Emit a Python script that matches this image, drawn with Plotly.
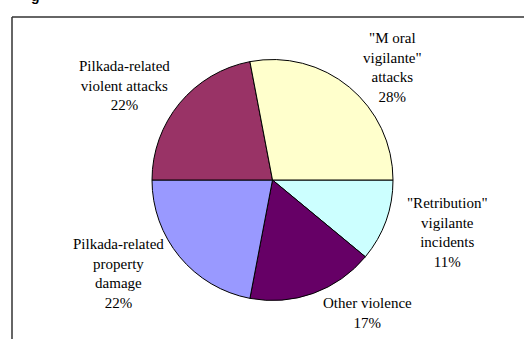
import plotly.graph_objects as go

W, H = 524, 339

# Data (in original order)
categories = ['"Moral vigilante" attacks', 'Pilkada-related violent attacks',
              'Pilkada-related property damage', 'Other violence',
              '"Retribution" vigilante incidents']
values = [28, 22, 22, 17, 11]
colors = ['#FFFFCC', '#993366', '#9999FF', '#660066', '#CCFFFF']
label_texts = ['"M oral<br>vigilante"<br>attacks<br>28%',
               'Pilkada-related<br>violent attacks<br>22%',
               'Pilkada-related<br>property<br>damage<br>22%',
               'Other violence<br>17%',
               '"Retribution"<br>vigilante<br>incidents<br>11%']
# label centres in pixels
label_pos = [(392, 67), (124, 85), (118, 273), (367, 313), (447, 232)]

# Pie drawn clockwise starting at 3 o'clock (reverse order)
fig = go.Figure(go.Pie(
    labels=categories[::-1],
    values=values[::-1],
    marker=dict(colors=colors[::-1], line=dict(color='black', width=1)),
    sort=False,
    direction='clockwise',
    rotation=90,
    textinfo='none',
    hoverinfo='label+percent',
    domain=dict(x=[152 / W, 393 / W], y=[1 - 300.5 / H, 1 - 59.5 / H]),
    showlegend=False,
))

annotations = []
for t, (px, py) in zip(label_texts, label_pos):
    annotations.append(dict(
        x=px / W, y=1 - py / H, xref='paper', yref='paper',
        text=t, showarrow=False, xanchor='center', yanchor='middle',
        align='center',
        font=dict(family='Liberation Serif', size=15, color='black'),
    ))
# cut-off title fragment at top (as in the reference)
annotations.append(dict(
    x=35 / W, y=1 - 6 / H, xref='paper', yref='paper', text='<b>g</b>',
    showarrow=False, xanchor='center', yanchor='bottom',
    font=dict(family='Liberation Sans', size=14, color='black'),
))

shapes = [
    dict(type='line', xref='paper', yref='paper', x0=12 / W, x1=1.02, y0=1 - 17 / H, y1=1 - 17 / H,
         line=dict(color='#333333', width=1.5)),
    dict(type='line', xref='paper', yref='paper', x0=12 / W, x1=12 / W, y0=-0.02, y1=1 - 17 / H,
         line=dict(color='#333333', width=1.5)),
]

fig.update_layout(
    width=W, height=H,
    margin=dict(l=0, r=0, t=0, b=0),
    paper_bgcolor='white', plot_bgcolor='white',
    annotations=annotations, shapes=shapes,
)

fig.write_html("out.html")
